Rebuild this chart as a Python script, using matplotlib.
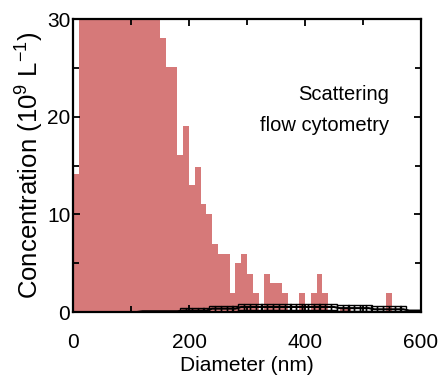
# Size distribution, scattering flow cytometry
import numpy as np
import matplotlib.pyplot as plt

plt.rcParams['font.family'] = ['Liberation Sans', 'DejaVu Sans']
plt.rcParams['mathtext.default'] = 'regular'

# histogram bins (left edge, nm), width 10 nm
bin_left = np.arange(0, 550, 10)
counts = [14.1,
          38, 52, 68, 80, 88, 92, 90, 84, 75, 66, 56, 47, 40, 33,   # off scale
          28.1, 25.1, 25.1, 16.1, 19.1, 13.0, 14.9, 11.1, 10.0, 7.0,
          5.9, 5.9, 1.9, 5.0, 5.9, 3.9, 2.0, 0.0, 3.9, 3.0,
          3.0, 2.0, 0.0, 0.0, 2.0, 0.0, 2.0, 3.9, 2.0, 0.0,
          0.0, 0.3, 0.3, 0.0, 0.0, 0.0, 0.0, 0.0, 0.0, 1.9]

# second distribution (open squares)
d_line = np.arange(0, 610, 10)
c_line = [0]*12 + [0.08]*7 + [0.15]*5 + [0.35]*5 + [0.52]*17 + [0.4]*6 + [0.28]*6 + [0.15]*3

fig = plt.figure(figsize=(4.43, 3.81), dpi=100)
ax = fig.add_axes([0.165, 0.181, 0.785, 0.769])

ax.bar(bin_left, counts, width=10, align='edge', color='#d67979', linewidth=0)
ax.plot(d_line, c_line, color='k', lw=1.5, marker='s', ms=4.5, mfc='none',
        mew=1.0, markevery=list(range(19, 58)))

ax.set_xlim(0, 600)
ax.set_ylim(0, 30)
ax.set_xticks([0, 200, 400, 600])
ax.set_xticks([100, 300, 500], minor=True)
ax.set_yticks([0, 10, 20, 30])
ax.set_yticks([5, 15, 25], minor=True)
ax.tick_params(which='both', direction='in', top=True, right=True, width=1.3)
ax.tick_params(which='major', length=5)
ax.tick_params(which='minor', length=4)
ax.tick_params(axis='x', labelsize=15, pad=15)
ax.tick_params(axis='y', labelsize=15, pad=2)
for s in ax.spines.values():
    s.set_linewidth(1.6)

ax.set_xlabel('Diameter (nm)', fontsize=15, labelpad=3)
ax.set_ylabel(r'Concentration (10$^{9}$ L$^{-1}$)', fontsize=18.5, labelpad=1)
ax.text(0.908, 0.775, 'Scattering\nflow cytometry', transform=ax.transAxes,
        ha='right', va='top', fontsize=14.5, linespacing=1.8)

plt.savefig('out.png', dpi=100)
